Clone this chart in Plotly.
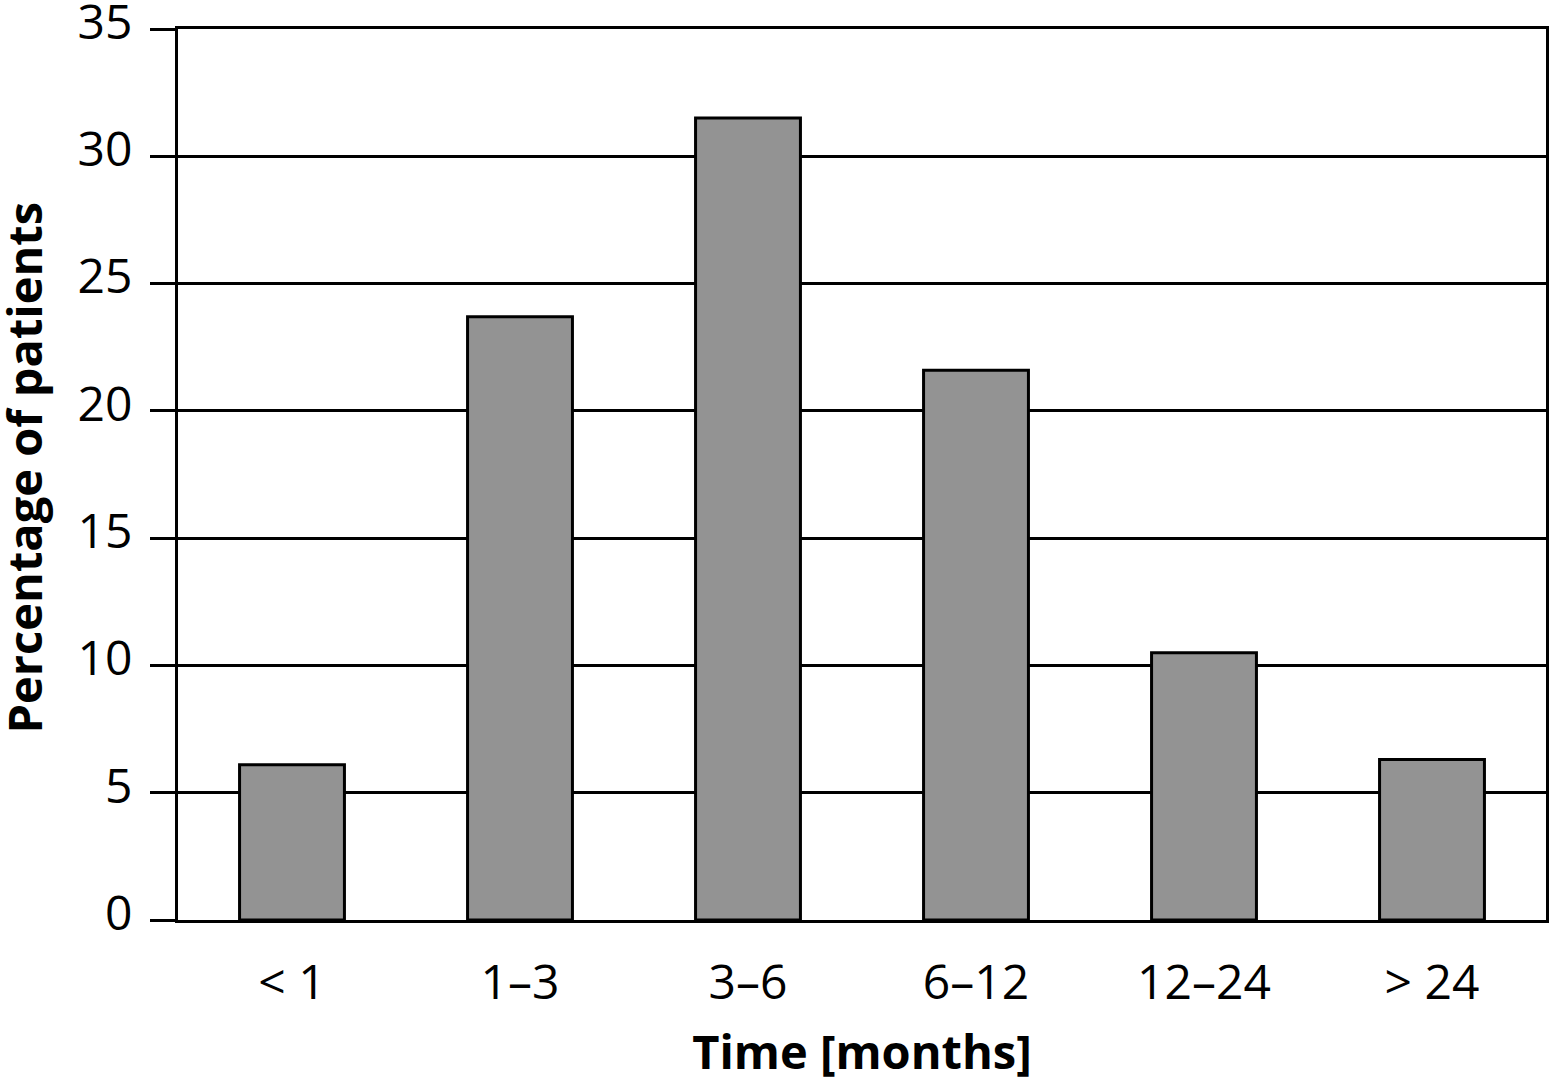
import plotly.graph_objects as go

categories = ["< 1", "1–3", "3–6", "6–12", "12–24", "> 24"]
percentages = [6.1, 23.7, 31.5, 21.6, 10.5, 6.3]
y_ticks = [0, 5, 10, 15, 20, 25, 30, 35]

fig = go.Figure(go.Bar(
    x=categories, y=percentages,
    width=0.46,
    marker=dict(color="#939393", line=dict(color="black", width=3)),
))

font_family = "Open Sans, Noto Sans, sans-serif"
fig.update_layout(
    width=1550, height=1083,
    margin=dict(l=178, r=4, t=29, b=163),
    plot_bgcolor="white", paper_bgcolor="white",
    showlegend=False,
    font=dict(family=font_family, color="black", size=48),
)
fig.update_xaxes(
    range=[-0.5, 5.5],
    showgrid=False,
    showline=True, linecolor="black", linewidth=3, mirror=True,
    ticks="outside", ticklen=18, tickcolor="rgba(0,0,0,0)",
    tickfont=dict(size=48),
    automargin=False,
    title=dict(text="<b>Time [months]</b>", font=dict(size=47), standoff=28),
)
fig.update_yaxes(
    range=[0, 35],
    tickvals=y_ticks,
    showgrid=True, gridcolor="black", gridwidth=3,
    showline=True, linecolor="black", linewidth=3, mirror=True,
    ticks="outside", ticklen=25, tickwidth=3, tickcolor="black",
    tickfont=dict(size=48),
    ticklabelstandoff=8,
    ticklabelshift=-7,
    ticklabeloverflow="allow",
    zeroline=False,
    automargin=False,
)
fig.add_annotation(
    text="<b>Percentage of patients</b>",
    xref="paper", yref="paper", x=0, y=0.5,
    xanchor="center", yanchor="middle",
    xshift=-155, yshift=7, textangle=-90,
    showarrow=False, font=dict(size=47),
)

fig.write_html("out.html", config={"displayModeBar": False},
               post_script="document.body.style.margin='0px';")
